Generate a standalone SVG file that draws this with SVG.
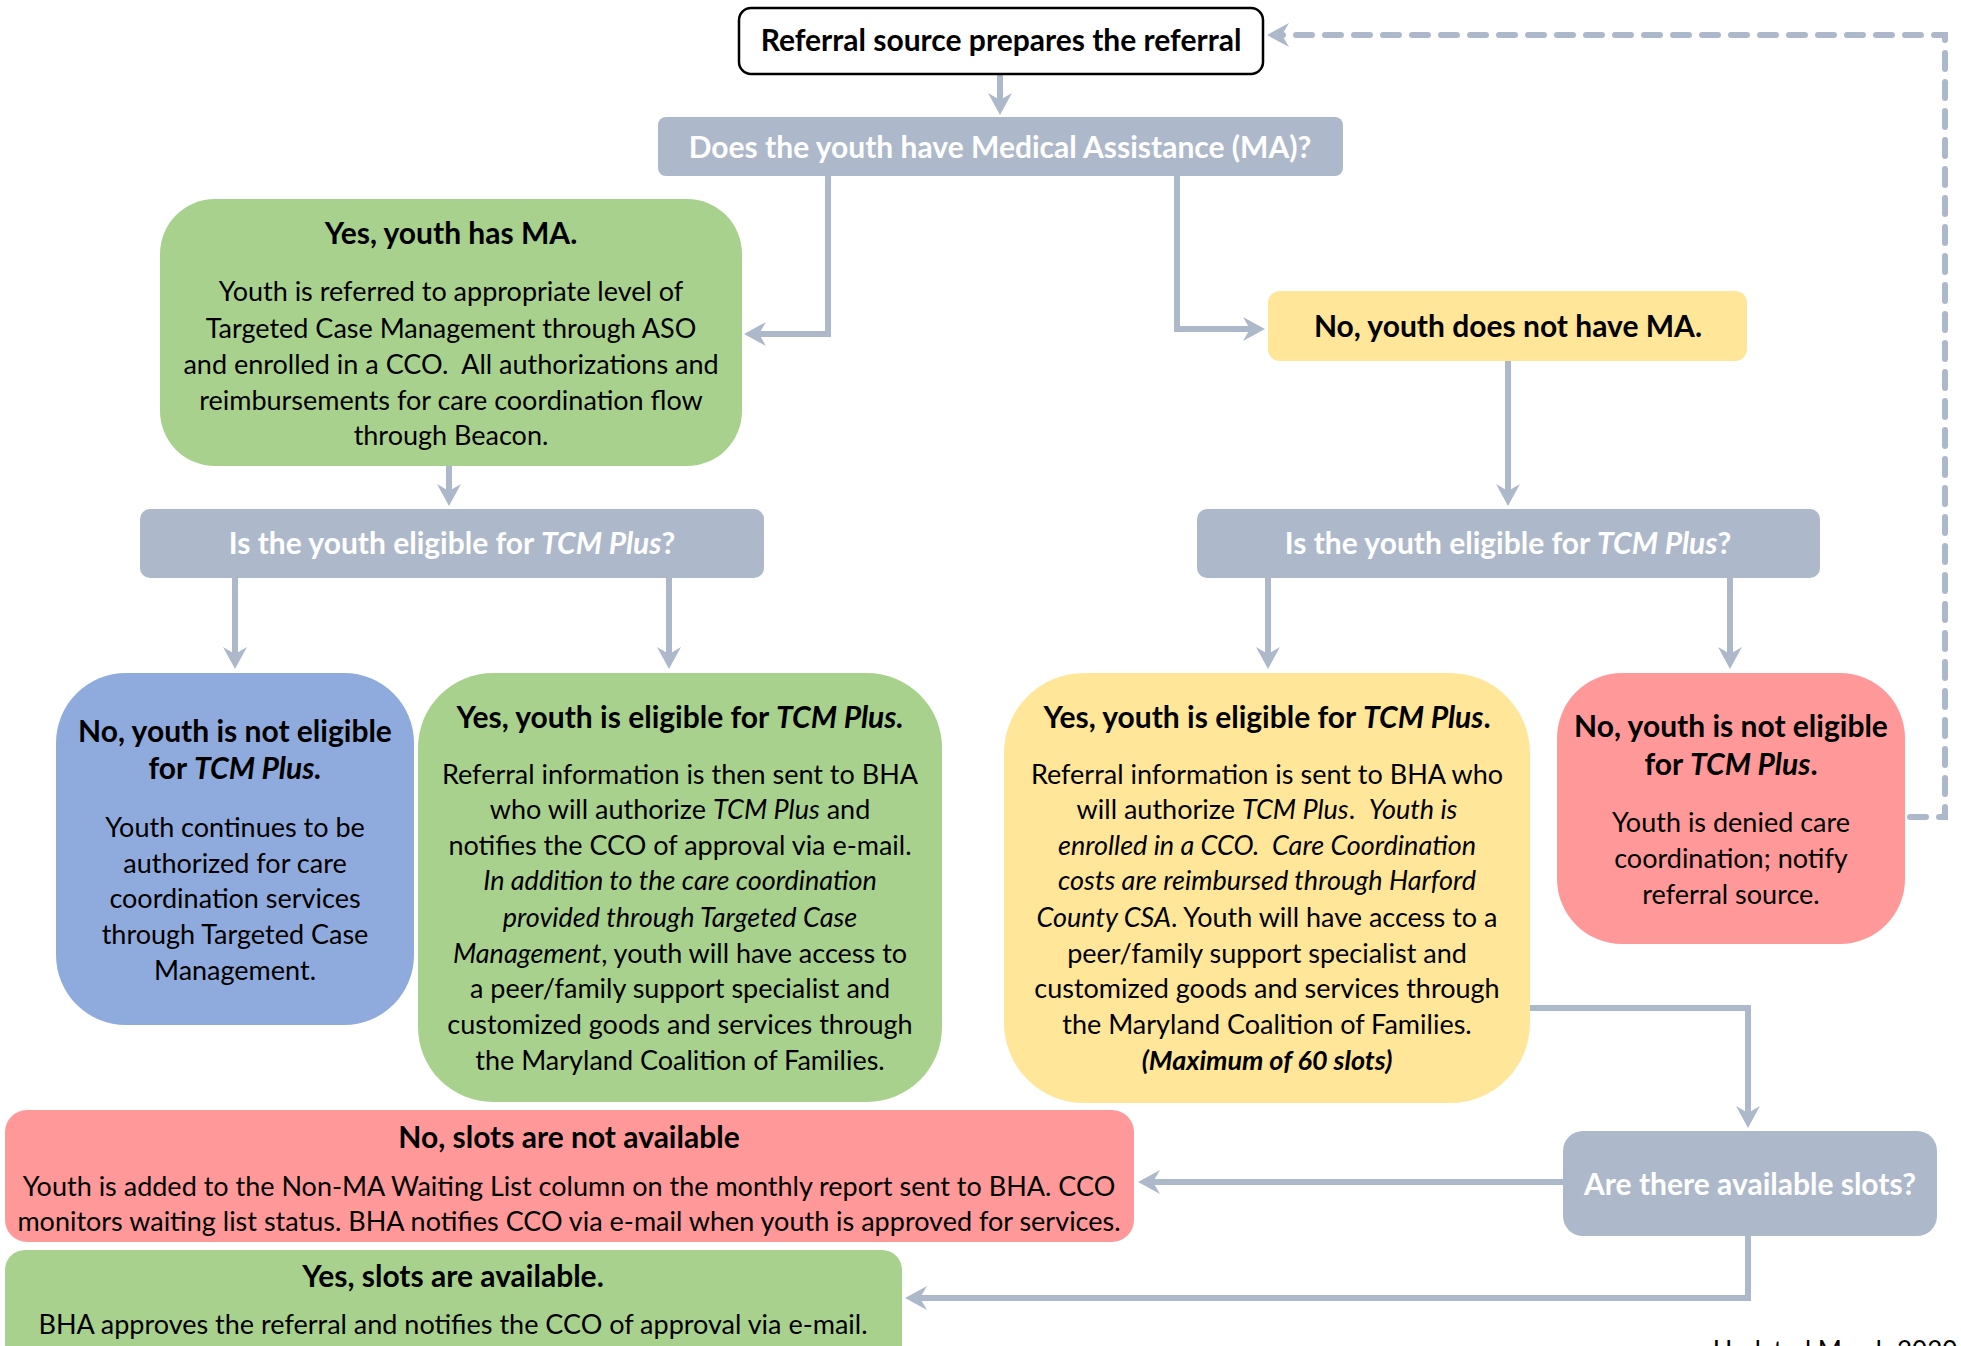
<svg xmlns="http://www.w3.org/2000/svg" width="1961" height="1346" viewBox="0 0 1961 1346">
<style>
text{font-family:Lato,"Liberation Sans",sans-serif;text-anchor:middle;fill:#000}
.t{font-size:27px}
.b{font-size:30px;font-weight:700}
.q{font-size:30px;font-weight:700;fill:#fff}
.i{font-style:italic}
.grey{fill:#ADB9CA}
.green{fill:#A9D18E}
.yellow{fill:#FFE699}
.blue{fill:#8FAADC}
.red{fill:#FF9999}
.conn path{fill:none;stroke:#ADB9CA;stroke-width:6;marker-end:url(#ah)}
.conn path.dash{stroke-dasharray:16 13;stroke-linecap:round}
</style>
<defs>
<marker id="ah" viewBox="-26 -14 28 28" markerWidth="28" markerHeight="28" refX="-12" refY="0" orient="auto" markerUnits="userSpaceOnUse">
<path d="M0,0 L-22,-12 L-15,0 L-22,12 Z" fill="#ADB9CA"/>
</marker>
</defs>
<rect width="1961" height="1346" fill="#fff"/>

<g class="conn" id="connectors">
<path d="M1000,74 L1000,103"/>
<path d="M828,176 L828,334 L756,334"/>
<path d="M1177,176 L1177,329 L1253,329"/>
<path d="M449,466 L449,494"/>
<path d="M1508,361 L1508,494"/>
<path d="M235,578 L235,657"/>
<path d="M669,578 L669,657"/>
<path d="M1268,578 L1268,657"/>
<path d="M1730,578 L1730,657"/>
<path class="dash" d="M1910,817 L1945,817 L1945,35 L1279,35"/>
<path d="M1530,1008 L1748,1008 L1748,1116"/>
<path d="M1563,1182 L1150,1182"/>
<path d="M1748,1236 L1748,1298 L917,1298"/>
</g>

<g id="n-referral">
<rect x="739" y="8" width="524" height="66" rx="12" fill="#fff" stroke="#000" stroke-width="2.5"/>
<text class="b" x="1001" y="51">Referral source prepares the referral</text>
</g>

<g id="n-ma-q">
<rect class="grey" x="658" y="117" width="685" height="59" rx="8"/>
<text class="q" x="1000" y="158">Does the youth have Medical Assistance (MA)?</text>
</g>

<g id="n-yes-ma">
<rect class="green" x="160" y="199" width="582" height="267" rx="55"/>
<text class="b" x="451" y="244">Yes, youth has MA.</text>
<text class="t" x="451" y="301">Youth is referred to appropriate level of</text>
<text class="t" x="451" y="338">Targeted Case Management through ASO</text>
<text class="t" x="451" y="374">and enrolled in a CCO.&#160; All authorizations and</text>
<text class="t" x="451" y="410">reimbursements for care coordination flow</text>
<text class="t" x="451" y="445">through Beacon.</text>
</g>

<g id="n-no-ma">
<rect class="yellow" x="1268" y="291" width="479" height="70" rx="12"/>
<text class="b" x="1508" y="337">No, youth does not have MA.</text>
</g>

<g id="n-elig-left">
<rect class="grey" x="140" y="509" width="624" height="69" rx="10"/>
<text class="q" x="452" y="554">Is the youth eligible for <tspan class="i">TCM Plus</tspan>?</text>
</g>

<g id="n-elig-right">
<rect class="grey" x="1197" y="509" width="623" height="69" rx="10"/>
<text class="q" x="1508" y="554">Is the youth eligible for <tspan class="i">TCM Plus</tspan>?</text>
</g>

<g id="n-blue-no">
<rect class="blue" x="56" y="673" width="358" height="352" rx="70"/>
<text class="b" x="235" y="742">No, youth is not eligible</text>
<text class="b" x="235" y="779">for <tspan class="i">TCM Plus.</tspan></text>
<text class="t" x="235" y="837">Youth continues to be</text>
<text class="t" x="235" y="873">authorized for care</text>
<text class="t" x="235" y="908">coordination services</text>
<text class="t" x="235" y="944">through Targeted Case</text>
<text class="t" x="235" y="980">Management.</text>
</g>

<g id="n-green-yes">
<rect class="green" x="418" y="673" width="524" height="429" rx="75"/>
<text class="b" x="680" y="728">Yes, youth is eligible for <tspan class="i">TCM Plus.</tspan></text>
<text class="t" x="680" y="784">Referral information is then sent to BHA</text>
<text class="t" x="680" y="819">who will authorize <tspan class="i">TCM Plus</tspan> and</text>
<text class="t" x="680" y="855">notifies the CCO of approval via e-mail.</text>
<text class="t i" x="680" y="890">In addition to the care coordination</text>
<text class="t i" x="680" y="927">provided through Targeted Case</text>
<text class="t" x="680" y="963"><tspan class="i">Management</tspan>, youth will have access to</text>
<text class="t" x="680" y="998">a peer/family support specialist and</text>
<text class="t" x="680" y="1034">customized goods and services through</text>
<text class="t" x="680" y="1070">the Maryland Coalition of Families.</text>
</g>

<g id="n-yellow-yes">
<rect class="yellow" x="1004" y="673" width="526" height="430" rx="80"/>
<text class="b" x="1267" y="728">Yes, youth is eligible for <tspan class="i">TCM Plus</tspan>.</text>
<text class="t" x="1267" y="784">Referral information is sent to BHA who</text>
<text class="t" x="1267" y="819">will authorize <tspan class="i">TCM Plus</tspan>.&#160; <tspan class="i">Youth is</tspan></text>
<text class="t i" x="1267" y="855">enrolled in a CCO.&#160; Care Coordination</text>
<text class="t i" x="1267" y="890">costs are reimbursed through Harford</text>
<text class="t" x="1267" y="927"><tspan class="i">County CSA</tspan>. Youth will have access to a</text>
<text class="t" x="1267" y="963">peer/family support specialist and</text>
<text class="t" x="1267" y="998">customized goods and services through</text>
<text class="t" x="1267" y="1034">the Maryland Coalition of Families.</text>
<text class="t i" x="1267" y="1070" font-weight="700">(Maximum of 60 slots)</text>
</g>

<g id="n-red-no">
<rect class="red" x="1557" y="673" width="348" height="271" rx="65"/>
<text class="b" x="1731" y="737">No, youth is not eligible</text>
<text class="b" x="1731" y="775">for <tspan class="i">TCM Plus</tspan>.</text>
<text class="t" x="1731" y="832">Youth is denied care</text>
<text class="t" x="1731" y="868">coordination; notify</text>
<text class="t" x="1731" y="904">referral source.</text>
</g>

<g id="n-slots-q">
<rect class="grey" x="1563" y="1131" width="374" height="105" rx="20"/>
<text class="q" x="1750" y="1195">Are there available slots?</text>
</g>

<g id="n-slots-no">
<rect class="red" x="5" y="1110" width="1129" height="132" rx="22"/>
<text class="b" x="569" y="1148">No, slots are not available</text>
<text class="t" x="569" y="1196">Youth is added to the Non-MA Waiting List column on the monthly report sent to BHA. CCO</text>
<text class="t" x="569" y="1231">monitors waiting list status. BHA notifies CCO via e-mail when youth is approved for services.</text>
</g>

<g id="n-slots-yes">
<rect class="green" x="5" y="1250" width="897" height="130" rx="20"/>
<text class="b" x="453" y="1287">Yes, slots are available.</text>
<text class="t" x="453" y="1334">BHA approves the referral and notifies the CCO of approval via e-mail.</text>
</g>

<text class="t" x="1713" y="1360" style="text-anchor:start;font-size:26px">Updated March 2020</text>
</svg>
